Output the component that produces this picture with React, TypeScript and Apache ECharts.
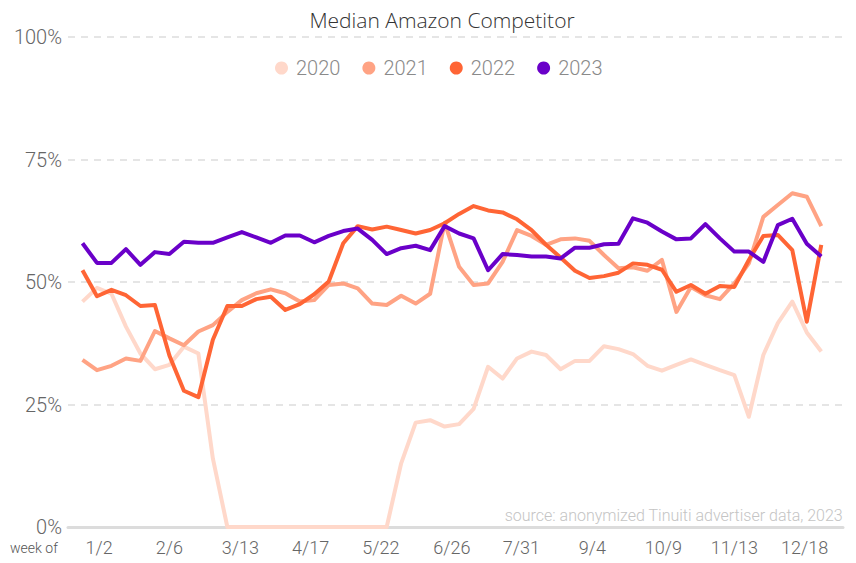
import React, { useEffect, useRef } from "react";
import * as echarts from "echarts";

const SERIES_NAMES = ["2020", "2021", "2022", "2023"];
const COLORS = ["#FFD8CA", "#FFA384", "#FF6535", "#6A00C9"];

const TICK_LABELS = ["1/2", "2/6", "3/13", "4/17", "5/22", "6/26", "7/31", "9/4", "10/9", "11/13", "12/18"];
// positions (in week index units) where the date labels sit
const TICK_POS = [1.15, 6.0, 10.9, 15.75, 20.6, 25.5, 30.3, 35.2, 40.1, 45.0, 49.85];

const Y_TICKS = [0, 25, 50, 75, 100];

const DATA_2020 = [
  46.0, 48.8, 47.6, 40.9, 35.4, 32.2, 33.1, 36.8, 35.4, 14.0,
  0, 0, 0, 0, 0, 0, 0, 0, 0, 0, 0, 0,
  13.0, 21.3, 21.8, 20.5, 21.0, 24.1, 32.7, 30.3, 34.4, 35.8,
  35.1, 32.2, 33.9, 33.9, 36.9, 36.3, 35.3, 32.9, 31.9, 33.1,
  34.2, 33.1, 32.0, 31.0, 22.5, 35.1, 41.6, 46.0, 39.7, 35.8,
];
const DATA_2021 = [
  34.1, 32.0, 32.9, 34.4, 33.9, 40.0, 38.5, 37.1, 39.9, 41.2,
  43.9, 46.3, 47.7, 48.5, 47.7, 46.0, 46.3, 49.4, 49.7, 48.7,
  45.6, 45.3, 47.2, 45.6, 47.6, 62.1, 53.1, 49.4, 49.7, 54.1,
  60.6, 59.4, 57.6, 58.7, 58.9, 58.4, 55.5, 52.8, 53.0, 52.3,
  54.5, 43.9, 49.0, 47.3, 46.5, 49.7, 53.8, 63.3, 65.7, 68.1,
  67.4, 61.4,
];
const DATA_2022 = [
  52.4, 47.1, 48.4, 47.3, 45.1, 45.3, 35.0, 27.8, 26.5, 38.2,
  45.1, 45.1, 46.5, 47.0, 44.3, 45.5, 47.5, 50.1, 57.9, 61.4,
  60.7, 61.3, 60.6, 59.9, 60.6, 62.0, 63.9, 65.5, 64.6, 64.2,
  62.8, 60.6, 57.6, 55.0, 52.3, 50.8, 51.2, 51.9, 53.8, 53.5,
  52.5, 48.0, 49.4, 47.6, 49.2, 49.0, 54.5, 59.4, 59.6, 56.5,
  41.9, 57.6,
];
const DATA_2023 = [
  57.9, 53.9, 53.9, 56.7, 53.5, 56.1, 55.7, 58.2, 58.0, 58.0,
  59.1, 60.2, 59.1, 58.0, 59.5, 59.5, 58.1, 59.4, 60.4, 60.9,
  58.6, 55.7, 56.9, 57.4, 56.5, 61.4, 59.9, 58.9, 52.4, 55.7,
  55.5, 55.2, 55.2, 54.8, 57.0, 57.0, 57.7, 57.8, 63.0, 62.1,
  60.3, 58.7, 58.9, 61.8, 58.9, 56.2, 56.2, 54.1, 61.6, 62.9,
  57.8, 55.2,
];

const ALL_DATA = [DATA_2020, DATA_2021, DATA_2022, DATA_2023];

const FONT = "Roboto";

export default function App() {
  const ref = useRef<HTMLDivElement>(null);

  useEffect(() => {
    document.body.style.margin = "0";
    const chart = echarts.init(ref.current!, null, { renderer: "svg" });
    const series = SERIES_NAMES.map((name, s) => ({
      name,
      type: "line",
      data: ALL_DATA[s].map((v, i) => [i, v]),
      showSymbol: false,
      symbol: "circle",
      lineStyle: { width: 4, color: COLORS[s], join: "round" },
      itemStyle: { color: COLORS[s] },
      z: 2 + s,
    }));

    chart.setOption({
      animation: false,
      title: {
        text: "Median Amazon Competitor",
        left: 437,
        top: 4,
        textAlign: "center",
        textStyle: { fontFamily: "Open Sans", fontWeight: 300, fontSize: 21, color: "#333" },
      },
      legend: {
        data: SERIES_NAMES,
        top: 53,
        left: 270,
        icon: "circle",
        itemWidth: 13,
        itemHeight: 13,
        itemGap: 22,
        textStyle: { fontFamily: FONT, fontWeight: 300, fontSize: 20, color: "#8a8a8a", padding: [0, 0, 0, 3] },
      },
      grid: { left: 68, right: 13, top: 37, bottom: 36, containLabel: false },
      xAxis: {
        type: "value",
        min: -1,
        max: 52.5,
        splitLine: { show: false },
        axisTick: { show: false },
        axisLine: { show: true, onZero: true, lineStyle: { color: "#dcdcdc", width: 3 } },
        axisLabel: {
          customValues: TICK_POS,
          margin: 11,
          fontFamily: FONT,
          fontWeight: 300,
          fontSize: 18,
          color: "#666",
          formatter: (v: number) => {
            const idx = TICK_POS.findIndex((p) => Math.abs(p - v) < 0.01);
            return idx >= 0 ? TICK_LABELS[idx] : "";
          },
        },
      },
      yAxis: {
        type: "value",
        min: 0,
        max: 100,
        interval: 25,
        axisLine: { show: false },
        axisTick: { show: false },
        splitLine: { show: true, lineStyle: { color: "#dddddd", width: 1.5, type: [7, 6] } },
        axisLabel: {
          margin: 6,
          fontFamily: FONT,
          fontWeight: 300,
          fontSize: 20,
          color: "#666",
          formatter: (v: number) => (Y_TICKS.includes(v) ? `${v}%` : ""),
        },
      },
      graphic: [
        {
          type: "text",
          right: 13,
          top: 507,
          style: {
            text: "source: anonymized Tinuiti advertiser data, 2023",
            fontFamily: FONT,
            fontWeight: 300,
            fontSize: 16,
            fill: "#c4c4c4",
          },
        },
        {
          type: "text",
          left: 10,
          top: 541,
          style: { text: "week of", fontFamily: FONT, fontWeight: 300, fontSize: 14, fill: "#555" },
        },
      ],
      series,
    });

    return () => chart.dispose();
  }, []);

  return (
    <div
      ref={ref}
      style={{ position: "absolute", left: 0, top: 0, width: 856, height: 563 }}
    />
  );
}
